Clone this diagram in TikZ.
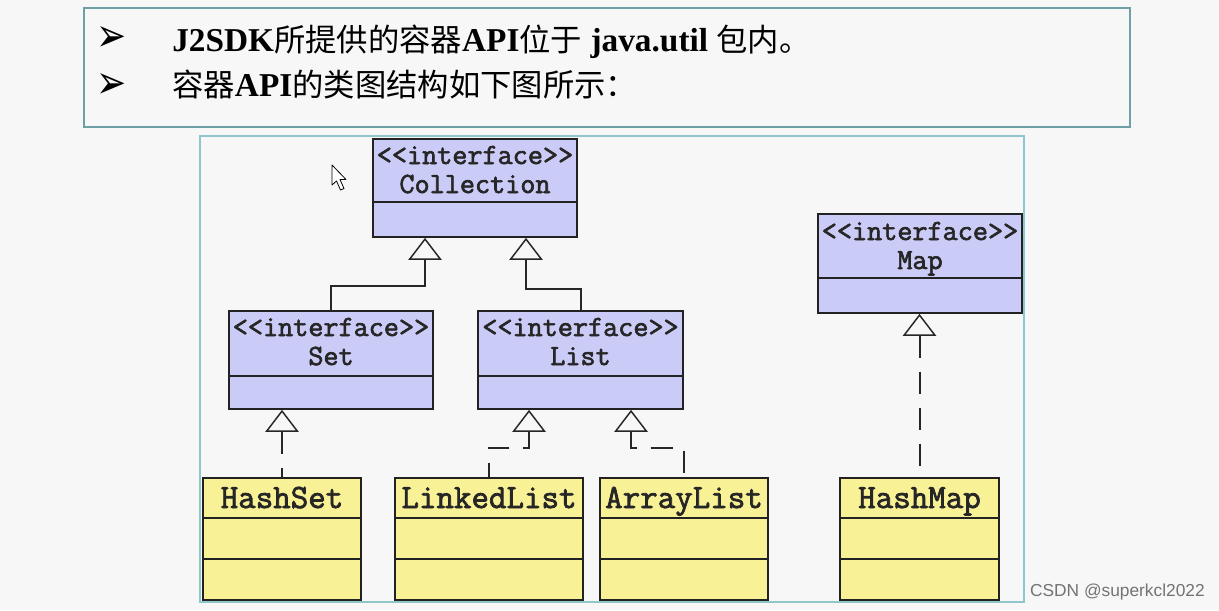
\documentclass[tikz,border=0pt]{standalone}
\usepackage{fontspec}
\setmainfont{Liberation Serif}
\newfontfamily\umlfont{Latin Modern Mono}[FakeBold=2.2]
\newfontfamily\cjk{Noto Sans CJK SC}
\newfontfamily\dvs{DejaVu Sans}
\newfontfamily\wmfont{Liberation Sans}
\usetikzlibrary{arrows.meta}
\definecolor{bgc}{HTML}{F7F7F7}
\definecolor{topedge}{HTML}{6E9EA6}
\definecolor{frameedge}{HTML}{8FC6CA}
\definecolor{ifill}{HTML}{CBCBF7}
\definecolor{cfill}{HTML}{F9F196}
\definecolor{edgec}{HTML}{222222}
\newcommand{\zh}[1]{{\cjk\mdseries\fontsize{23.5}{23.5}\selectfont #1}}
\tikzset{
  ibox/.style={draw=edgec, line width=1.3pt, fill=ifill, rectangle, inner sep=0pt},
  cbox/.style={draw=edgec, line width=1.3pt, fill=cfill, rectangle, inner sep=0pt},
  stereo/.style={font=\umlfont\fontsize{22}{22}\selectfont, text=black!85, inner sep=0pt, anchor=base},
  cname/.style={font=\umlfont\fontsize{25.5}{25.5}\selectfont, text=black!85, inner sep=0pt, anchor=base},
  divider/.style={draw=edgec, line width=1.3pt},
  gen/.style={draw=black!85, line width=1.5pt, -{Triangle[open, length=16.5pt, width=25pt, line width=1.1pt]}},
  real/.style={draw=black!85, line width=1.5pt, {Triangle[open, length=16.5pt, width=25pt, line width=1.1pt]}-, dash pattern=on 16.5pt off 10.5pt},
  head/.style={font=\bfseries\fontsize{25}{25}\selectfont, inner sep=0pt, anchor=base west},
  bullet/.style={font=\dvs\fontsize{27}{27}\selectfont, inner sep=0pt}
}
\begin{document}
\begin{tikzpicture}[x=0.75pt,y=-0.75pt]
\useasboundingbox (0,0) rectangle (1219,610);
\fill[bgc] (0,0) rectangle (1219,610);
% top box
\draw[topedge, line width=1.6pt, fill=bgc] (84,8) rectangle (1130,127);
\node[bullet, yscale=1.3] (b1) at (112,39) {➢};
\node[bullet, yscale=1.3] (b2) at (112,86) {➢};
\node[head] (l1) at (172,51) {J2SDK\zh{所提供的容器}API\zh{位于} java.util \zh{包内。}};
\node[head] (l2) at (172,96) {\zh{容器}API\zh{的类图结构如下图所示：}};
% diagram frame
\draw[frameedge, line width=1.2pt, fill=bgc] (200,136) rectangle (1024,602);
% cursor
\draw[black, line width=0.6pt, fill=white, line join=round] (332,165) -- (332,185) -- (336.5,181) -- (340.5,190) -- (344,188.5) -- (340,179.5) -- (346,179.5) -- cycle;
% interface boxes
\node[ibox, minimum width=153pt, minimum height=73.5pt] (coll) at (475,188) {};
\node[ibox, minimum width=153pt, minimum height=73.5pt] (set) at (331,360) {};
\node[ibox, minimum width=153.75pt, minimum height=73.5pt] (list) at (580.5,360) {};
\node[ibox, minimum width=153pt, minimum height=74.25pt] (map) at (920,263.5) {};
\draw[divider] (373,202) -- (577,202);
\draw[divider] (229,376) -- (433,376);
\draw[divider] (478,376) -- (683,376);
\draw[divider] (818,278) -- (1022,278);
\node[stereo] (collS) at (475,164) {<<interface>>};
\node[stereo] (collN) at (475,193) {Collection};
\node[stereo] (setS) at (331,336) {<<interface>>};
\node[stereo] (setN) at (331,365) {Set};
\node[stereo] (listS) at (580.5,336) {<<interface>>};
\node[stereo] (listN) at (580.5,365) {List};
\node[stereo] (mapS) at (920,240) {<<interface>>};
\node[stereo] (mapN) at (920,269) {Map};
% class boxes
\node[cbox, minimum width=118.5pt, minimum height=91.5pt] (hashset) at (282,539) {};
\node[cbox, minimum width=141pt, minimum height=91.5pt] (linked) at (489,539) {};
\node[cbox, minimum width=126pt, minimum height=91.5pt] (array) at (684,539) {};
\node[cbox, minimum width=119.25pt, minimum height=91.5pt] (hashmap) at (919.5,539) {};
\foreach \a/\b in {203/361, 395/583, 600/768, 840/999}{
  \draw[divider] (\a,518) -- (\b,518);
  \draw[divider] (\a,559) -- (\b,559);
}
\node[cname] (hsN) at (282,508) {HashSet};
\node[cname] (llN) at (489,508) {LinkedList};
\node[cname] (alN) at (684,508) {ArrayList};
\node[cname] (hmN) at (919.5,508) {HashMap};
% connectors
\draw[gen] (set.north) -- ++(0,-24) -| ([xshift=-37.5pt]coll.south);
\draw[gen] (list.north) -- ++(0,-21) -| ([xshift=38.25pt]coll.south);
\draw[real] ([xshift=-36.75pt]set.south) -- (hashset.north);
\draw[real] ([xshift=-38.6pt]list.south) -- ++(0,38) -| (linked.north);
\draw[real] ([xshift=37.9pt]list.south) -- ++(0,38) -| (array.north);
\draw[real] (hashmap.north |- map.south) -- (hashmap.north);
% watermark
\node[font=\wmfont\fontsize{13}{13}\selectfont, text=black!55, inner sep=0pt, anchor=east] (wm) at (1205,592) {CSDN @superkcl2022};
\end{tikzpicture}
\end{document}
